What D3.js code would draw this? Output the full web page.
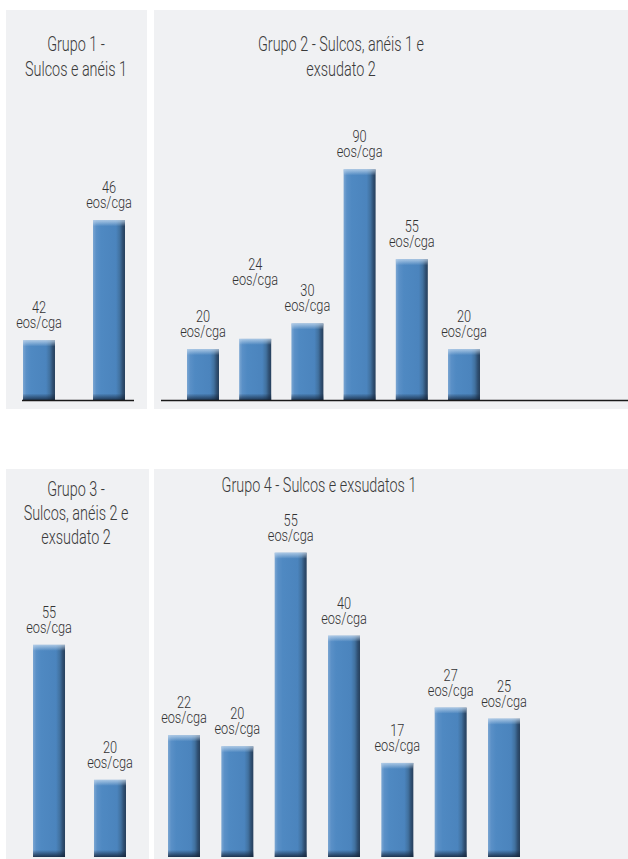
<!DOCTYPE html>
<html>
<head>
<meta charset="utf-8">
<script src="https://cdn.jsdelivr.net/npm/d3@7"></script>
<style>
  html, body { margin: 0; padding: 0; background: #ffffff; }
  svg { display: block; }
  text { font-family: Roboto, "Noto Sans", sans-serif; font-weight: 300; fill: #333333; }
</style>
</head>
<body>
<svg id="chart" width="628" height="859"></svg>
<script>
// ---- Data ----
const group1Title = ["Grupo 1 -", "Sulcos e anéis 1"];
const group1Values = [42, 46];

const group2Title = ["Grupo 2 - Sulcos, anéis 1 e", "exsudato 2"];
const group2Values = [20, 24, 30, 90, 55, 20];

const group3Title = ["Grupo 3 -", "Sulcos, anéis 2 e", "exsudato 2"];
const group3Values = [55, 20];

const group4Title = ["Grupo 4 - Sulcos e exsudatos 1"];
const group4Values = [22, 20, 55, 40, 17, 27, 25];

const unitLabel = "eos/cga";

// ---- Layout (positions/styles) ----
const panels = [
  { title: group1Title, values: group1Values, bg: [6, 10, 141, 399], titleX: 76, titleY: 51, titleGap: 25,
    xRange: [23, 125], padIn: 0.543, base: 400.5, yDomain: [40, 50], yTop: 100, axis: [22, 134], labelLift: [0, 0] },
  { title: group2Title, values: group2Values, bg: [154, 10, 480, 399], titleX: 341, titleY: 51, titleGap: 25,
    xRange: [187, 480], padIn: 0.387, base: 400.5, yDomain: [0, 117], yTop: 100, axis: [161, 628], labelLift: [0, 42, 0, 0, 0, 0] },
  { title: group3Title, values: group3Values, bg: [6, 469, 143, 395], titleX: 76, titleY: 496, titleGap: 24,
    xRange: [33, 126], padIn: 0.475, base: 857, yDomain: [0, 103.7], yTop: 457, axis: null, labelLift: [0, 0] },
  { title: group4Title, values: group4Values, bg: [154, 469, 480, 395], titleX: 319, titleY: 492, titleGap: 24,
    xRange: [168, 520], padIn: 0.4, base: 857, yDomain: [0, 72.3], yTop: 457, axis: null, labelLift: [0, 0, 0, 0, 0, 0, 0] }
];
const titleSize = 20, titleScale = 0.72;
const labelSize = 17, labelScale = 0.75, labelLine = 15, labelGap = 12;

const svg = d3.select("#chart");
const defs = svg.append("defs");

// horizontal shading of bars
const hg = defs.append("linearGradient").attr("id", "barH").attr("x1", "0").attr("x2", "1").attr("y1", "0").attr("y2", "0");
[[0, "#7ba6d2"], [0.1, "#5a90c7"], [0.25, "#4f89c2"], [0.72, "#4b84bd"], [0.84, "#41719f"], [0.93, "#2f4f72"], [1, "#27405c"]]
  .forEach(([o, c]) => hg.append("stop").attr("offset", o).attr("stop-color", c));
// top highlight
const tg = defs.append("linearGradient").attr("id", "barTop").attr("x1", "0").attr("x2", "0").attr("y1", "0").attr("y2", "1");
tg.append("stop").attr("offset", 0).attr("stop-color", "#c8dcf0").attr("stop-opacity", 0.75);
tg.append("stop").attr("offset", 1).attr("stop-color", "#c8dcf0").attr("stop-opacity", 0);
// bottom shadow
const bg = defs.append("linearGradient").attr("id", "barBot").attr("x1", "0").attr("x2", "0").attr("y1", "0").attr("y2", "1");
bg.append("stop").attr("offset", 0).attr("stop-color", "#14243a").attr("stop-opacity", 0);
bg.append("stop").attr("offset", 1).attr("stop-color", "#14243a").attr("stop-opacity", 0.85);

panels.forEach(p => {
  const g = svg.append("g");
  g.append("rect")
    .attr("x", p.bg[0]).attr("y", p.bg[1]).attr("width", p.bg[2]).attr("height", p.bg[3])
    .attr("fill", "#f0f1f3");

  const x = d3.scaleBand().domain(d3.range(p.values.length)).range(p.xRange)
    .paddingInner(p.padIn).paddingOuter(0);
  const y = d3.scaleLinear().domain(p.yDomain).range([p.base, p.yTop]);

  // title
  p.title.forEach((line, i) => {
    g.append("text")
      .attr("transform", `translate(${p.titleX},${p.titleY + i * p.titleGap}) scale(${titleScale},1)`)
      .attr("text-anchor", "middle")
      .style("font-size", titleSize + "px").style("fill", "#3a3a3a")
      .text(line);
  });

  // bars
  const bars = g.selectAll("g.bar").data(p.values).enter().append("g").attr("class", "bar");
  bars.append("rect")
    .attr("x", (d, i) => x(i)).attr("y", d => y(d))
    .attr("width", x.bandwidth()).attr("height", d => p.base - y(d))
    .attr("fill", "url(#barH)");
  bars.append("rect")
    .attr("x", (d, i) => x(i)).attr("y", d => y(d))
    .attr("width", x.bandwidth()).attr("height", 6)
    .attr("fill", "url(#barTop)");
  bars.append("rect")
    .attr("x", (d, i) => x(i)).attr("y", p.base - 7)
    .attr("width", x.bandwidth()).attr("height", 7)
    .attr("fill", "url(#barBot)");

  // labels
  bars.append("text")
    .attr("transform", (d, i) => `translate(${x(i) + x.bandwidth() / 2},${y(d) - labelGap - labelLine - p.labelLift[i]}) scale(${labelScale},1)`)
    .attr("text-anchor", "middle").style("font-size", labelSize + "px")
    .text(d => d);
  bars.append("text")
    .attr("transform", (d, i) => `translate(${x(i) + x.bandwidth() / 2},${y(d) - labelGap - p.labelLift[i]}) scale(${labelScale},1)`)
    .attr("text-anchor", "middle").style("font-size", labelSize + "px")
    .text(unitLabel);

  if (p.axis) {
    g.append("line")
      .attr("x1", p.axis[0]).attr("x2", p.axis[1])
      .attr("y1", p.base).attr("y2", p.base)
      .attr("stroke", "#1a1a1a").attr("stroke-width", 1.5);
  }
});
</script>
</body>
</html>
